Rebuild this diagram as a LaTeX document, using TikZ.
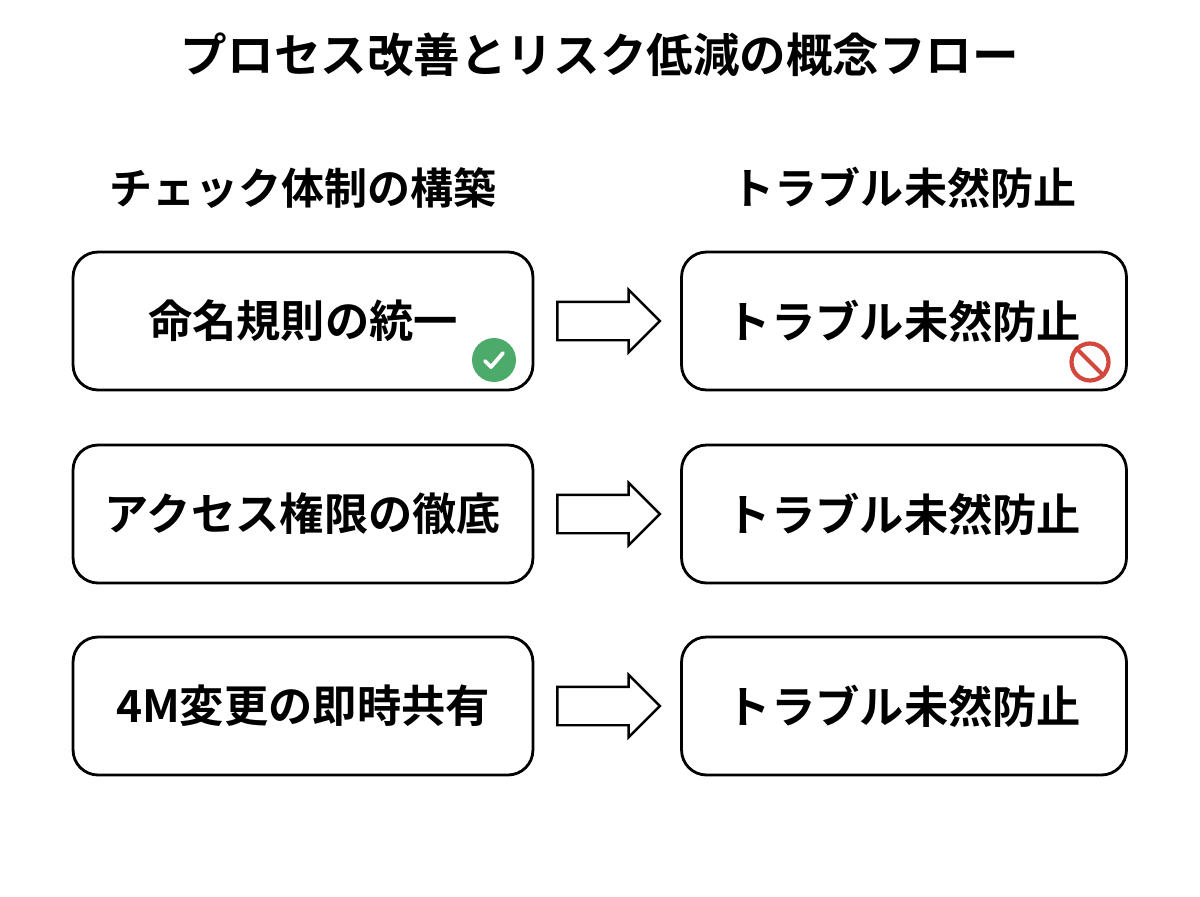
\documentclass[tikz,border=0pt]{standalone}
\usepackage{fontspec}
\setmainfont{Noto Sans CJK JP}[BoldFont={Noto Sans CJK JP Bold}]
\usetikzlibrary{shapes.arrows}
\definecolor{okgreen}{HTML}{4CAA6A}
\definecolor{ngred}{HTML}{D2483C}
\begin{document}
\begin{tikzpicture}[x=0.02cm,y=-0.02cm,
	box/.style={draw, line width=1.6pt, rounded corners=0.5cm, minimum height=2.76cm, font=\bfseries\fontsize{25.2}{25.2}\selectfont},
	lbox/.style={box, minimum width=9.2cm},
	rbox/.style={box, minimum width=8.9cm},
	head/.style={font=\bfseries\fontsize{24.5}{24.5}\selectfont},
	flow/.style={single arrow, draw, line width=1.4pt, fill=white, minimum height=2.05cm, inner xsep=0pt, inner ysep=0.36cm, single arrow head extend=0.24cm, shape border rotate=0}
	]
	\useasboundingbox (0,0) rectangle (1200,896);
	
	% title and headers
	\node[font=\bfseries\fontsize{26.5}{26.5}\selectfont] (title) at (600,55) {プロセス改善とリスク低減の概念フロー};
	\node[head] (hleft) at (303,188) {チェック体制の構築};
	\node[head] (hright) at (904,188) {トラブル未然防止};
	
	% rows
	\node[lbox] (A1) at (303,321) {命名規則の統一};
	\node[lbox] (A2) at (303,514) {アクセス権限の徹底};
	\node[lbox] (A3) at (303,706) {4M変更の即時共有};
	\node[rbox] (B1) at (904,321) {トラブル未然防止};
	\node[rbox] (B2) at (904,514) {トラブル未然防止};
	\node[rbox] (B3) at (904,706) {トラブル未然防止};
	
	% block arrows
	\foreach \i/\y in {1/321,2/514,3/706}
		\node[flow] (F\i) at (599,\y) {};
	
	% icons
	\node[circle, fill=okgreen, minimum size=0.88cm] (ok) at (494,360) {};
	\draw[white, line width=2.2pt, line cap=round, line join=round]
		([shift={(-9,1)}]ok.center) -- ([shift={(-3,7)}]ok.center) -- ([shift={(9,-7)}]ok.center);
	\node[circle, draw=ngred, line width=2.4pt, fill=white, minimum size=0.74cm] (ng) at (1090,362) {};
	\draw[ngred, line width=2.4pt] (ng.north west) -- (ng.south east);
\end{tikzpicture}
\end{document}
